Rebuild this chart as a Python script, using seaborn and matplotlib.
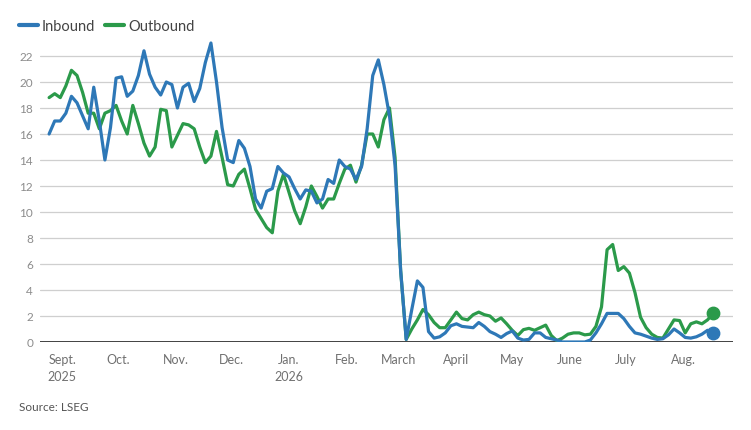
import pandas as pd
import matplotlib.pyplot as plt
import seaborn as sns

# 3-day samples, starting 1 Sept 2025
start = "2025-09-01"
inbound = [
    16.0, 17.0, 17.0, 17.6, 18.9, 18.4, 17.4, 16.4, 19.6, 17.0,
    14.0, 16.5, 20.3, 20.4, 18.9, 19.3, 20.5, 22.4, 20.6, 19.6,
    19.0, 20.0, 19.8, 18.0, 19.6, 19.9, 18.5, 19.5, 21.5, 23.0,
    20.0, 16.5, 14.0, 13.8, 15.5, 14.9, 13.5, 11.0, 10.3, 11.6,
    11.8, 13.5, 13.0, 12.7, 11.8, 11.0, 11.7, 11.6, 10.7, 11.0,
    12.5, 12.2, 14.0, 13.5, 13.3, 12.5, 13.5, 16.4, 20.5, 21.7,
    19.8, 17.4, 13.6, 5.5, 0.2, 2.5, 4.7, 4.2, 0.8, 0.3,
    0.4, 0.7, 1.25, 1.4, 1.2, 1.15, 1.1, 1.5, 1.2, 0.8,
    0.6, 0.35, 0.65, 0.85, 0.3, 0.15, 0.2, 0.7, 0.7, 0.35,
    0.25, 0.15, 0.0, 0.0, 0.0, 0.0, 0.0, 0.15, 0.7, 1.4,
    2.2, 2.2, 2.2, 1.8, 1.2, 0.7, 0.6, 0.45, 0.3, 0.2,
    0.25, 0.55, 1.0, 0.7, 0.35, 0.3, 0.4, 0.6, 0.9, 0.7,
]
outbound = [
    18.8, 19.1, 18.8, 19.7, 20.9, 20.5, 19.2, 17.6, 17.6, 16.4,
    17.6, 17.8, 18.2, 17.0, 16.0, 18.2, 16.8, 15.3, 14.3, 15.0,
    17.9, 17.8, 15.0, 15.9, 16.8, 16.7, 16.4, 15.0, 13.8, 14.3,
    16.2, 14.2, 12.1, 12.0, 12.9, 13.3, 11.8, 10.2, 9.5, 8.8,
    8.4, 11.6, 12.9, 11.5, 10.1, 9.1, 10.4, 12.0, 11.2, 10.3,
    11.0, 11.0, 12.2, 13.3, 13.6, 12.3, 13.6, 16.0, 16.0, 15.0,
    17.1, 18.0, 14.2, 5.5, 0.2, 1.0, 1.7, 2.5, 2.1, 1.5,
    1.1, 1.1, 1.7, 2.3, 1.8, 1.7, 2.1, 2.3, 2.1, 2.0,
    1.6, 1.85, 1.4, 0.9, 0.5, 0.95, 1.05, 0.9, 1.1, 1.3,
    0.5, 0.1, 0.3, 0.6, 0.7, 0.7, 0.55, 0.6, 1.2, 2.7,
    7.1, 7.5, 5.5, 5.8, 5.3, 3.8, 1.9, 1.1, 0.6, 0.35,
    0.3, 1.0, 1.7, 1.65, 0.7, 1.4, 1.55, 1.4, 1.7, 2.2,
]
month_labels = ["Sept.\n2025", "Oct.", "Nov.", "Dec.", "Jan.\n2026", "Feb.",
                "March", "April", "May", "June", "July", "Aug."]
y_ticks = list(range(0, 23, 2))

BLUE = "#2e78b7"
GREEN = "#2b9a4a"

dates = pd.date_range(start, periods=len(inbound), freq="3D")
df = pd.DataFrame({"date": dates, "Inbound": inbound, "Outbound": outbound})
long = df.melt(id_vars="date", var_name="series", value_name="value")

sns.set_theme(style="white")
plt.rcParams["font.family"] = ["Lato", "DejaVu Sans"]

fig = plt.figure(figsize=(7.51, 4.31), dpi=100)
ax = fig.add_axes([40 / 751, 88 / 431, 693 / 751, 301.6 / 431])

for y in y_ticks[1:]:
    ax.axhline(y, color="#cfcfcf", lw=0.9, zorder=0)
ax.axhline(0, color="#333333", lw=1.3, zorder=1)

sns.lineplot(data=long, x="date", y="value", hue="series",
             palette={"Inbound": BLUE, "Outbound": GREEN},
             hue_order=["Outbound", "Inbound"],
             lw=2.3, ax=ax, legend=False, zorder=3)

last = df.iloc[-1]
ax.scatter([last["date"]], [last["Outbound"]], s=80, color=GREEN, zorder=4)
ax.scatter([last["date"]], [last["Inbound"]], s=80, color=BLUE, zorder=4)

t0 = pd.Timestamp(start)
ax.set_xlim(t0 - pd.Timedelta(days=4.9), t0 + pd.Timedelta(days=367.7))
ax.set_ylim(0, 23.2)

tick_pos = pd.date_range(start, periods=12, freq="MS") + pd.Timedelta(days=7)
ax.set_xticks(tick_pos)
ax.set_xticklabels(month_labels, fontsize=9, color="#707070", linespacing=1.5,
                   va="top")
ax.set_yticks(y_ticks)
ax.set_yticklabels([str(v) for v in y_ticks], fontsize=8.5, color="#8c8c8c")
ax.tick_params(axis="both", length=0)
ax.tick_params(axis="x", pad=8)
ax.tick_params(axis="y", pad=5)
ax.set_xlabel("")
ax.set_ylabel("")
sns.despine(ax=ax, left=True, bottom=True)

handles = [plt.Line2D([], [], color=BLUE, lw=3),
           plt.Line2D([], [], color=GREEN, lw=3)]
fig.legend(handles, ["Inbound", "Outbound"], loc="upper left",
           bbox_to_anchor=(6 / 751, 1 - 7 / 431), ncol=2, frameon=False,
           fontsize=10.5, handlelength=1.3, handletextpad=0.25,
           columnspacing=0.7, labelcolor="#444444")

fig.text(19 / 751, 1 - 408 / 431, "Source: LSEG", fontsize=8.5,
         color="#555555", va="center")

plt.savefig("out.png", dpi=100)
